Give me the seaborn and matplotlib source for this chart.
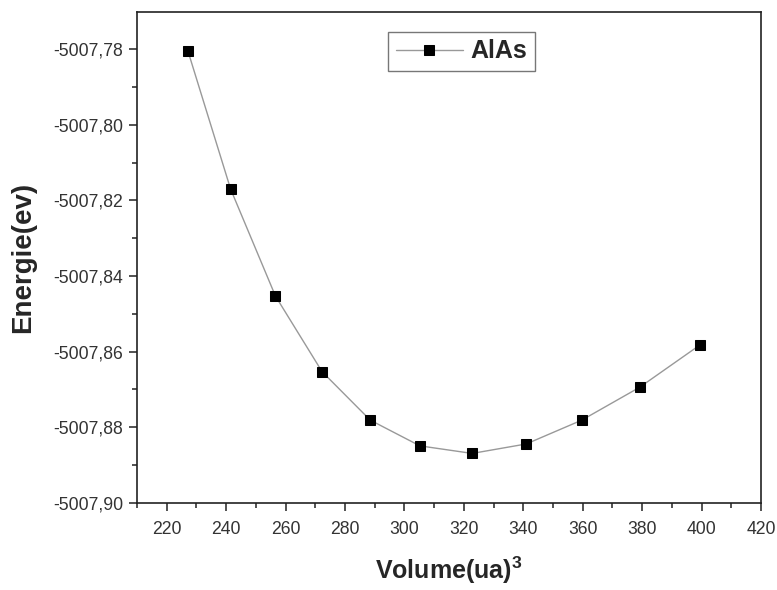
import matplotlib
matplotlib.use("Agg")
import matplotlib.pyplot as plt
import seaborn as sns
import pandas as pd
from matplotlib.ticker import MultipleLocator, FuncFormatter

sns.set_style('ticks')
plt.rcParams['font.family'] = ['Liberation Sans', 'DejaVu Sans']

# -----------------------------
# data
# -----------------------------
volume = [227.1, 241.5, 256.6, 272.3, 288.5, 305.2, 322.8, 341.0, 359.7, 379.2, 399.5]
energie = [-5007.7804, -5007.8170, -5007.8453, -5007.8653, -5007.8781, -5007.8849,
           -5007.8869, -5007.8844, -5007.8781, -5007.8694, -5007.8582]
series_name = "AlAs"

data = pd.DataFrame({"Volume": volume, "Energie": energie})

fig = plt.figure(figsize=(7.77, 5.90), dpi=100)
ax = fig.add_axes([0.1763, 0.1475, 0.8031, 0.8322])

sns.lineplot(
    data=data, x="Volume", y="Energie", ax=ax,
    color="#999999", linewidth=1.0,
    marker="s", markersize=6.5, markerfacecolor="black",
    markeredgecolor="black", label=series_name
)

ax.set_xlim(210, 420)
ax.set_ylim(-5007.90, -5007.7702)
ax.xaxis.set_major_locator(MultipleLocator(20))
ax.xaxis.set_minor_locator(MultipleLocator(10))
ax.yaxis.set_major_locator(MultipleLocator(0.02))
ax.yaxis.set_minor_locator(MultipleLocator(0.01))
ax.yaxis.set_major_formatter(FuncFormatter(lambda v, p: f"{v:.2f}".replace('.', ',')))

for s in ax.spines.values():
    s.set_visible(True)
    s.set_linewidth(1.2)
    s.set_color("#222222")

ax.tick_params(which='major', length=6, width=1.1, color="#222222",
               labelsize=12.7, labelcolor="#333333", pad=4)
ax.tick_params(axis='x', which='major', pad=7)
ax.tick_params(which='minor', length=3.5, width=1.1, color="#222222")
ax.tick_params(top=False, right=False, which='both')

ax.set_xlabel(r"Volume(ua)$^{\mathregular{3}}$", fontsize=18, fontweight='bold', labelpad=12)
ax.set_ylabel("Energie(ev)", fontsize=20, fontweight='bold', labelpad=12)

leg = ax.legend(loc='upper center', bbox_to_anchor=(0.52, 0.985),
                prop={'weight': 'bold', 'size': 18}, handlelength=2.7,
                fancybox=False, framealpha=1, edgecolor="#777777",
                borderpad=0.3, handletextpad=0.3)
leg.get_frame().set_linewidth(1.0)

fig.savefig("out.png", dpi=100)
